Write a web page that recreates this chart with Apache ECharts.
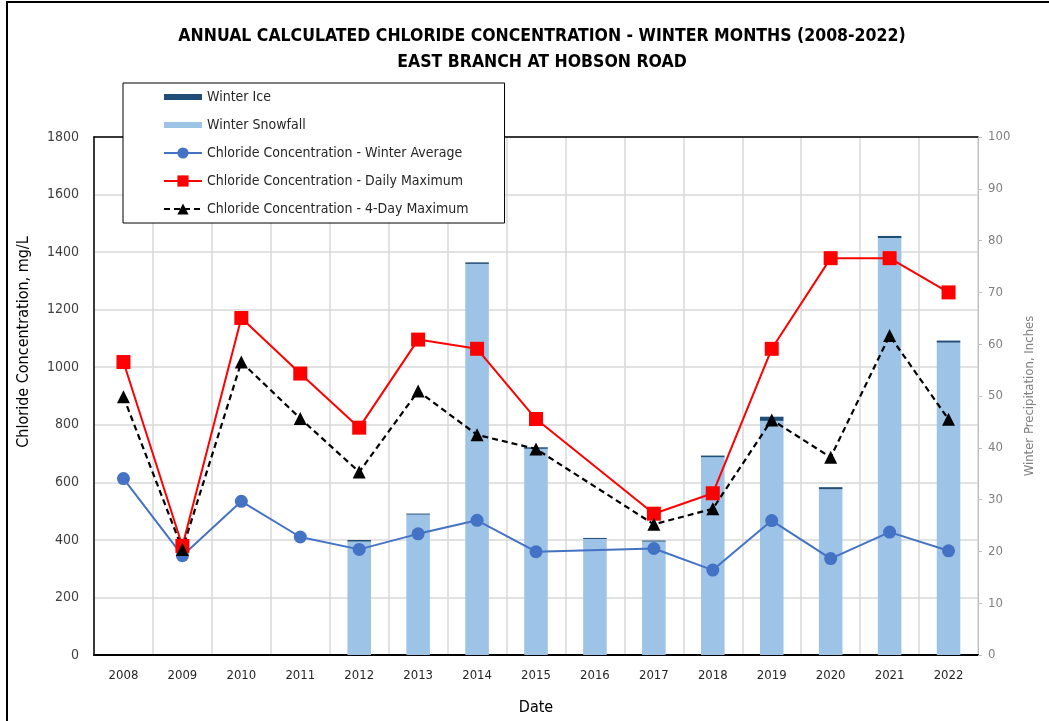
<!DOCTYPE html>
<html>
<head>
<meta charset="utf-8">
<script src="https://cdn.jsdelivr.net/npm/echarts@6/dist/echarts.min.js"></script>
<style>
  html, body { margin: 0; padding: 0; background: #fff; }
  #wrap { position: absolute; left: 0; top: 0; width: 1049px; height: 721px; overflow: hidden; }
  #frame { position: absolute; left: 6px; top: 1px; width: 1100px; height: 800px; border-left: 2px solid #000; border-top: 2px solid #000; pointer-events: none; }
  #chart { position: absolute; left: 0; top: 0; width: 1049px; height: 721px; }
</style>
</head>
<body>
<div id="wrap">
  <div id="chart"></div>
  <div id="frame"></div>
</div>
<script>
const years = ['2008','2009','2010','2011','2012','2013','2014','2015','2016','2017','2018','2019','2020','2021','2022'];
const winterSnowfall = [null, null, null, null, 21.9, 27.1, 75.5, 39.8, 22.4, 21.9, 38.2, 45.2, 32.0, 80.5, 60.3];
const winterIce = [null, null, null, null, 0.3, 0.2, 0.3, 0.3, 0.2, 0.2, 0.3, 0.8, 0.4, 0.4, 0.4];
const winterAverage = [613, 345, 534, 410, 367, 421, 468, 359, null, 370, 295, 467, 335, 427, 362];
const dailyMaximum = [1018, 379, 1171, 978, 790, 1096, 1064, 820, null, 491, 562, 1064, 1379, 1379, 1260];
const fourDayMaximum = [897, 367, 1018, 822, 636, 917, 765, 716, null, 454, 508, 817, 687, 1110, 819];

const FONT = "'Liberation Sans Narrow', 'DejaVu Sans Condensed', 'Open Sans', sans-serif";
const chart = echarts.init(document.getElementById('chart'), null, { renderer: 'canvas' });

const barIcon = 'path://M0,0 M0,4 L38,4 L38,10 L0,10 Z M38,14';
const plain = v => String(v);

chart.setOption({
  animation: false,
  backgroundColor: '#ffffff',
  textStyle: { fontFamily: FONT },
  title: {
    text: 'ANNUAL CALCULATED CHLORIDE CONCENTRATION - WINTER MONTHS (2008-2022)\nEAST BRANCH AT HOBSON ROAD',
    left: 537, top: 18, textAlign: 'center',
    textStyle: { fontFamily: FONT, fontSize: 17.5, fontWeight: 'bold', color: '#000', lineHeight: 26 }
  },
  legend: {
    orient: 'vertical',
    left: 123, top: 83,
    padding: [7, 36, 7, 40],
    itemWidth: 38, itemHeight: 14, itemGap: 14,
    backgroundColor: '#fff', borderColor: '#000', borderWidth: 1,
    textStyle: { fontFamily: FONT, fontSize: 14, color: '#262626' },
    data: [
      { name: 'Winter Ice', icon: barIcon },
      { name: 'Winter Snowfall', icon: barIcon },
      'Chloride Concentration - Winter Average',
      'Chloride Concentration - Daily Maximum',
      'Chloride Concentration - 4-Day Maximum'
    ]
  },
  grid: { left: 94, right: 71, top: 137, bottom: 63, containLabel: false },
  xAxis: [{
    type: 'category', data: years, boundaryGap: true, position: 'bottom',
    name: 'Date', nameLocation: 'middle', nameGap: 45,
    nameTextStyle: { fontFamily: FONT, fontSize: 16, color: '#000' },
    axisLine: { onZero: false, lineStyle: { color: '#000', width: 2 } },
    axisTick: { show: false },
    axisLabel: { fontFamily: FONT, fontSize: 13, color: '#262626', margin: 14 },
    splitLine: { show: true, lineStyle: { color: '#d9d9d9', width: 1.5 } }
  }, {
    type: 'category', data: years, position: 'top',
    axisLine: { show: true, onZero: false, lineStyle: { color: '#000', width: 1.5 } },
    axisTick: { show: false }, axisLabel: { show: false }, splitLine: { show: false }
  }],
  yAxis: [{
    type: 'value', min: 0, max: 1800, interval: 200, position: 'left',
    name: 'Chloride Concentration, mg/L', nameLocation: 'middle', nameGap: 62,
    nameTextStyle: { fontFamily: FONT, fontSize: 16, color: '#000', padding: [0, 0, 0, 108] },
    axisLine: { show: true, lineStyle: { color: '#000', width: 1.5 } },
    axisTick: { show: false },
    axisLabel: { fontFamily: FONT, fontSize: 14, color: '#404040', margin: 15, formatter: plain },
    splitLine: { show: true, lineStyle: { color: '#d9d9d9', width: 1.5 } }
  }, {
    type: 'value', min: 0, max: 100, interval: 10, position: 'right',
    name: 'Winter Precipitation, Inches', nameLocation: 'middle', nameGap: 45,
    nameTextStyle: { fontFamily: FONT, fontSize: 13, color: '#7f7f7f' },
    axisLine: { show: true, lineStyle: { color: '#bfbfbf', width: 1 } },
    axisTick: { show: true, length: 4, lineStyle: { color: '#bfbfbf' } },
    axisLabel: { fontFamily: FONT, fontSize: 13, color: '#7f7f7f', margin: 10, formatter: plain },
    splitLine: { show: false }
  }],
  series: [
    {
      name: 'Winter Snowfall', type: 'bar', stack: 'precip', yAxisIndex: 1,
      data: winterSnowfall, barWidth: '40%',
      itemStyle: { color: '#9dc3e6' }
    },
    {
      name: 'Winter Ice', type: 'bar', stack: 'precip', yAxisIndex: 1,
      data: winterIce, barWidth: '40%',
      itemStyle: { color: '#1f4e79' }
    },
    {
      name: 'Chloride Concentration - Winter Average', type: 'line', yAxisIndex: 0,
      data: winterAverage, connectNulls: true,
      symbol: 'circle', symbolSize: 13,
      lineStyle: { color: '#4472c4', width: 2 },
      itemStyle: { color: '#4472c4' }
    },
    {
      name: 'Chloride Concentration - Daily Maximum', type: 'line', yAxisIndex: 0,
      data: dailyMaximum, connectNulls: true,
      symbol: 'rect', symbolSize: 14,
      lineStyle: { color: '#ff0000', width: 2 },
      itemStyle: { color: '#ff0000' }
    },
    {
      name: 'Chloride Concentration - 4-Day Maximum', type: 'line', yAxisIndex: 0,
      data: fourDayMaximum, connectNulls: true,
      symbol: 'triangle', symbolSize: 13,
      lineStyle: { color: '#000000', width: 2.2, type: [6, 4] },
      itemStyle: { color: '#000000' }
    }
  ]
});
</script>
</body>
</html>
